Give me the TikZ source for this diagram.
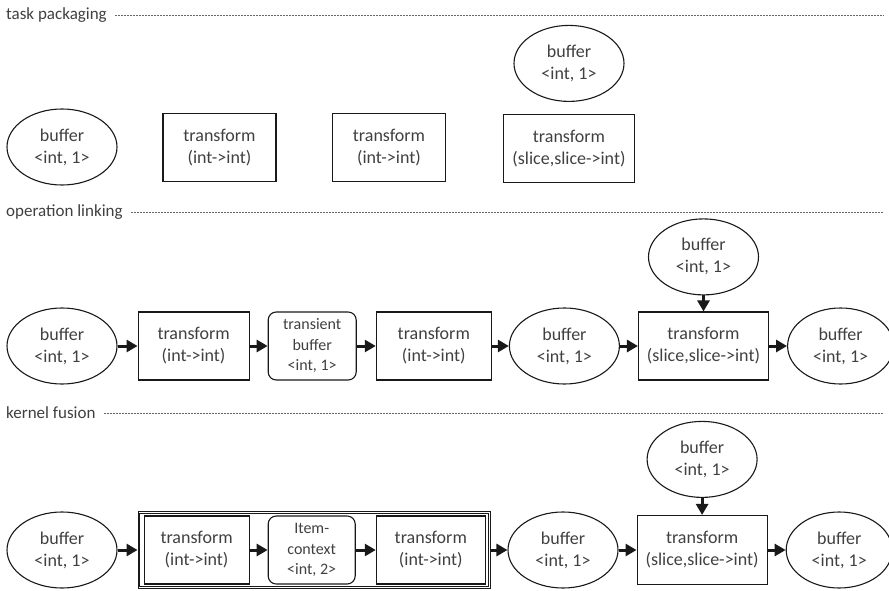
\documentclass[tikz,border=0pt]{standalone}
\usepackage{fontspec}
\setmainfont{Carlito}
\usetikzlibrary{positioning}
\usetikzlibrary{arrows.meta,shapes}
\definecolor{inkgrey}{HTML}{404040}
\newcommand{\nodefont}{\fontsize{18}{22}\selectfont}
\newcommand{\smallnodefont}{\fontsize{16}{20.5}\selectfont}
\newcommand{\headfont}{\fontsize{17}{20}\selectfont}
\newcommand{\buf}{buffer\\<int, 1>}
\newcommand{\tfint}{transform\\(int->int)}
\newcommand{\tfslice}{transform\\(slice,slice->int)}
\tikzstyle{buffer}=[ellipse,draw=black!90,line width=1.1pt,minimum width=110pt,minimum height=76pt,inner sep=0pt,align=center]
\tikzstyle{transform}=[rectangle,draw=black!90,line width=1.1pt,minimum width=111pt,minimum height=68pt,inner sep=0pt,align=center]
\tikzstyle{transient}=[rectangle,rounded corners=8pt,draw=black!90,line width=1.1pt,minimum width=88pt,minimum height=68pt,inner sep=0pt,align=center,font=\smallnodefont]
\tikzstyle{fused}=[rectangle,draw=black!90,line width=0.9pt,minimum width=352pt,minimum height=77pt,inner sep=0pt]
\tikzstyle{fusedinner}=[draw=black!90,line width=0.9pt]
\tikzstyle{heading}=[anchor=west,inner sep=0pt,font=\headfont]
\tikzstyle{rule}=[draw=black!60,line width=0.7pt,dash pattern=on 0.7pt off 0.8pt]
\tikzstyle{edge} = [draw,line width=3pt,black!90,-{Triangle[length=11pt,width=12pt]}]

\begin{document}
\begin{tikzpicture}[x=1pt,y=-1pt,font=\nodefont,text=inkgrey,node distance=18pt]
  \useasboundingbox (0,0) rectangle (889,591);

    % Section headings with their dotted rules
    \foreach \pos/\name/\label in {{(6,15)/H1/task packaging}, {(6,212)/H2/operation linking}, {(6,413)/H3/kernel fusion}}
        \node[heading] (\name) at \pos {\label};
    \coordinate (ruleend) at (883,0);
    \foreach \name in {H1,H2,H3}
        \path[rule] ([xshift=8pt]\name.east) -- (\name.east -| ruleend);

    % task packaging: the pieces, still apart
    \node[buffer] (B1) at (62,147) {\buf};
    \foreach \pos/\name in {{(219.5,147.5)/T1a}, {(389,147.5)/T1b}}
        \node[transform,minimum width=113pt] (\name) at \pos {\tfint};
    \node[transform,minimum width=131pt] (S1) at (569,148.5) {\tfslice};
    \node[buffer,above=12pt of S1] (U1) {\buf};

    % operation linking
    \def\dy{346}
    \node[buffer] (B2a) at (62,\dy) {\buf};
    \node[transform,right=20pt of B2a] (T2a) {\tfint};
    \node[transient,right=of T2a] (C2) {transient\\buffer\\<int, 1>};
    \node[transform,right=19pt of C2,minimum width=115pt] (T2b) {\tfint};
    \node[buffer,right=17pt of T2b] (B2b) {\buf};
    \node[transform,right=of B2b,minimum width=130pt] (S2) {\tfslice};
    \node[buffer,right=of S2,minimum width=106pt] (B2c) {\buf};
    \node[buffer,above=16pt of S2] (U2) {\buf};

    \foreach \source/ \dest in {B2a/T2a, T2a/C2, C2/T2b, T2b/B2b, B2b/S2, S2/B2c, U2/S2}
        \path[edge] (\source) -- (\dest);

    % kernel fusion: the linked chain packed into one kernel
    \def\dy{550}
    \node[buffer] (B3a) at (62,\dy) {\buf};
    \node[fused,right=20pt of B3a] (F3) {};
    \draw[fusedinner] ([shift={(2.2,2.2)}]F3.north west) rectangle ([shift={(-2.2,-2.2)}]F3.south east);
    \node[transform,right=6pt of F3.west,minimum width=105pt] (T3a) {\tfint};
    \node[transient,right=of T3a,minimum width=87pt] (C3) {Item-\\context\\<int, 2>};
    \node[transform,right=20pt of C3,minimum width=109pt] (T3b) {\tfint};
    \node[buffer,right=17pt of F3] (B3b) {\buf};
    \node[transform,right=of B3b,minimum width=130pt,minimum height=69pt] (S3) {\tfslice};
    \node[buffer,right=of S3,minimum width=106pt] (B3c) {\buf};
    \node[buffer,above=17pt of S3] (U3) {\buf};

    \foreach \source/ \dest in {B3a/F3, T3a/C3, C3/T3b, F3/B3b, B3b/S3, S3/B3c, U3/S3}
        \path[edge] (\source) -- (\dest);

\end{tikzpicture}
\end{document}
